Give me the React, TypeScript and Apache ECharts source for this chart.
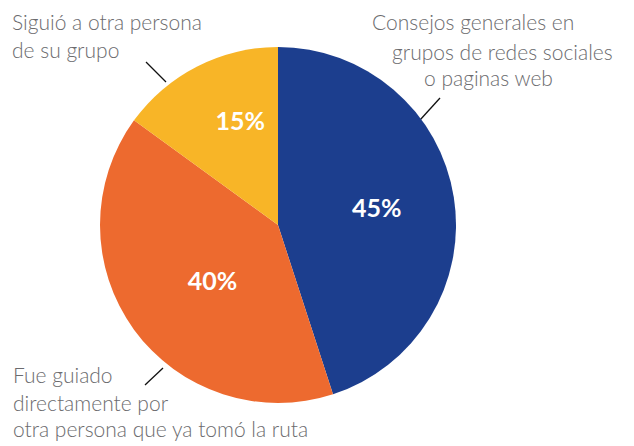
import React, { useEffect, useRef } from "react";
import * as echarts from "echarts";

const categories = [
  "Consejos generales en grupos de redes sociales o paginas web",
  "Fue guiado directamente por otra persona que ya tomó la ruta",
  "Siguió a otra persona de su grupo",
];
const values = [45, 40, 15];
const colors = ["#1c3e8e", "#ed6a2f", "#f8b527"];
const labelOffsets = [[8, -4], [9, 1], [4, -23]];

const labelColor = "#6b6b6e";
const font = "Lato, 'Open Sans', sans-serif";

export default function App() {
  const ref = useRef<HTMLDivElement>(null);
  useEffect(() => {
    if (!ref.current) return;
    const chart = echarts.init(ref.current, undefined, { renderer: "svg" });
    const txt = (text: string, x: number, baseline: number) => ({
      type: "text",
      x,
      y: baseline - 21,
      style: { text, fill: labelColor, font: `300 21px ${font}`, verticalAlign: "top" },
    });
    const ln = (x1: number, y1: number, x2: number, y2: number) => ({
      type: "line",
      shape: { x1, y1, x2, y2 },
      style: { stroke: "#111", lineWidth: 1.3 },
    });
    chart.setOption({
      animation: false,
      series: [
        {
          type: "pie",
          center: [278, 225],
          radius: 178,
          startAngle: 90,
          clockwise: true,
          silent: true,
          label: {
            position: "inside",
            formatter: (p: any) => `${p.value}%`,
            color: "#fff",
            fontSize: 25,
            fontWeight: "bold",
            fontFamily: font,
          },
          labelLine: { show: false },
          data: categories.map((c, i) => ({
            name: c,
            value: values[i],
            itemStyle: { color: colors[i] },
            label: { offset: labelOffsets[i] },
          })),
        },
      ],
      graphic: [
        txt("Siguió a otra persona", 12, 32),
        txt("de su grupo", 12, 60),
        ln(146, 62, 166, 82),
        txt("Consejos generales en", 372, 32),
        txt("grupos de redes sociales", 392, 62),
        txt("o paginas web", 424, 88),
        ln(440, 98, 420, 120),
        txt("Fue guiado", 13, 385),
        txt("directamente por", 13, 413),
        txt("otra persona que ya tomó la ruta", 13, 439),
        ln(145, 385, 163, 368),
      ],
    });
    return () => chart.dispose();
  }, []);
  return (
    <div
      ref={ref}
      style={{ position: "fixed", left: 0, top: 0, width: 634, height: 446, background: "#fff" }}
    />
  );
}
